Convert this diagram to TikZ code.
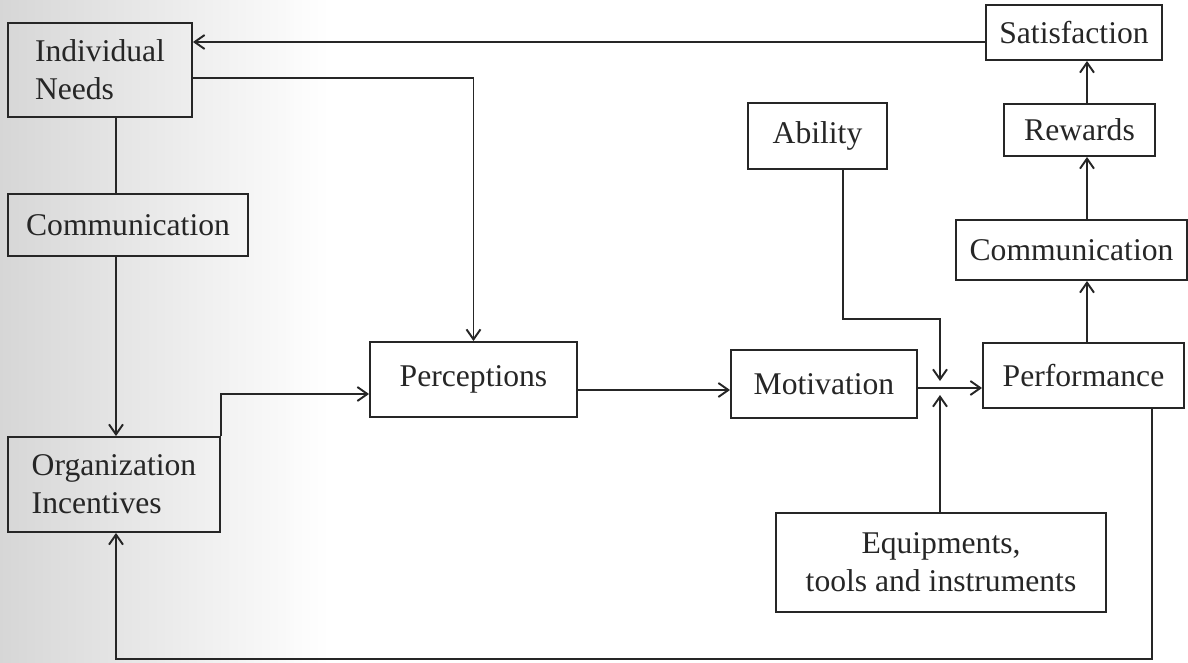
\documentclass[tikz,border=0pt]{standalone}
\usepackage{fontspec}
\setmainfont{Liberation Serif}
\usetikzlibrary{arrows.meta}

\begin{document}
\begin{tikzpicture}[x=0.02cm, y=-0.02cm, >={Straight Barb[length=2mm,width=2.8mm]}, line width=1.1pt, black!85,
        box/.style={draw, inner sep=0pt, text=black!85, font=\fontsize{18}{21.5}\selectfont}]
        \useasboundingbox (0,0) rectangle (1188,663);
        \shade[left color=black!16, right color=white] (0,0) rectangle (330,663);

        % left column
        \node[box, minimum width=3.68cm, minimum height=1.88cm, align=left] (needs) at (100,70) {Individual\\Needs};
        \node[box, minimum width=4.8cm, minimum height=1.24cm] (comml) at (128,225) {Communication};
        \node[box, minimum width=4.24cm, minimum height=1.9cm, align=left] (org) at (114,484.5) {Organization\\Incentives};

        % middle row
        \node[box, minimum width=4.14cm, minimum height=1.5cm] (perc) at (473.5,379.5) {Perceptions};
        \node[box, minimum width=3.72cm, minimum height=1.36cm] (motiv) at (824,384) {Motivation};
        \node[box, minimum width=4.02cm, minimum height=1.3cm] (perf) at (1083.5,375.5) {Performance};
        \node[box, minimum width=2.78cm, minimum height=1.32cm] (abil) at (817.5,136) {Ability};
        \node[box, minimum width=6.6cm, minimum height=1.98cm, align=center] (equip) at (941,562.5) {Equipments,\\tools and instruments};

        % right column
        \node[box, minimum width=4.62cm, minimum height=1.2cm] (commr) at (1071.5,250) {Communication};
        \node[box, minimum width=3.02cm, minimum height=1.04cm] (rew) at (1079.5,130) {Rewards};
        \node[box, minimum width=3.52cm, minimum height=1.1cm] (sat) at (1074,32.5) {Satisfaction};

        \coordinate (lcol) at (116,0);
        \coordinate (rcol) at (1087,0);
        \coordinate (acol) at (843,0);
        \coordinate (fcol) at (1152,0);
        \coordinate (jtop) at (940,381);
        \coordinate (jbot) at (940,395);

        \draw [->] (sat.west |- 0,42) -- (needs.east |- 0,42);
        \draw [->] (needs.east |- 0,78) -| (perc.north);
        \draw (needs.south -| lcol) -- (comml.north -| lcol);
        \draw [->] (comml.south -| lcol) -- (org.north -| lcol);
        \draw [->] (org.north east) |- (perc.west |- 0,394);
        \draw [->] (perc.east |- 0,390) -- (motiv.west |- 0,390);
        \draw [->] (motiv.east |- 0,388) -- (perf.west |- 0,388);
        \draw [->] (abil.south -| acol) |- (jtop |- 0,319) -- (jtop);
        \draw [->] (equip.north -| jbot) -- (jbot);
        \draw [->] (perf.south -| fcol) |- (lcol |- 0,659) -- (org.south -| lcol);
        \draw [->] (perf.north -| rcol) -- (commr.south -| rcol);
        \draw [->] (commr.north -| rcol) -- (rew.south -| rcol);
        \draw [->] (rew.north -| rcol) -- (sat.south -| rcol);
\end{tikzpicture}
\end{document}
